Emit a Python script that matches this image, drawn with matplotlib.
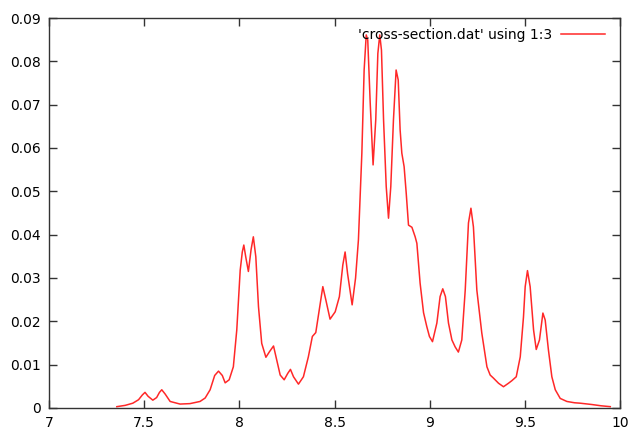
import matplotlib
matplotlib.use("Agg")
import matplotlib.pyplot as plt
from matplotlib.ticker import FormatStrFormatter, MultipleLocator

# energy (column 1) and cross section (column 3)
energy = [7.356, 7.40, 7.44, 7.47, 7.49, 7.504, 7.52, 7.545, 7.565, 7.58,
          7.592, 7.61, 7.636, 7.688, 7.74, 7.793, 7.82, 7.846, 7.87, 7.89,
          7.91, 7.925, 7.946, 7.968, 7.986, 8.004, 8.015, 8.023, 8.033, 8.047,
          8.061, 8.073, 8.086, 8.10, 8.117, 8.139, 8.158, 8.179, 8.196, 8.214,
          8.235, 8.254, 8.268, 8.284, 8.31, 8.336, 8.362, 8.383, 8.401, 8.419,
          8.438, 8.454, 8.476, 8.503, 8.525, 8.543, 8.555, 8.568, 8.592, 8.61,
          8.625, 8.643, 8.655, 8.666, 8.674, 8.687, 8.702, 8.716, 8.727, 8.737,
          8.746, 8.757, 8.771, 8.783, 8.795, 8.809, 8.823, 8.834, 8.844, 8.853,
          8.865, 8.876, 8.888, 8.906, 8.923, 8.932, 8.949, 8.967, 8.984, 8.998,
          9.014, 9.037, 9.054, 9.068, 9.082, 9.098, 9.116, 9.133, 9.15, 9.168,
          9.186, 9.203, 9.216, 9.229, 9.247, 9.273, 9.30, 9.317, 9.334, 9.361,
          9.387, 9.413, 9.431, 9.454, 9.475, 9.492, 9.501, 9.513, 9.527, 9.545,
          9.559, 9.576, 9.594, 9.606, 9.623, 9.641, 9.659, 9.685, 9.72, 9.76,
          9.79, 9.85, 9.90, 9.948]
xsec = [0.0003, 0.0006, 0.0011, 0.0019, 0.0030, 0.0036, 0.0027, 0.0018, 0.0024, 0.0036,
        0.0042, 0.0032, 0.0015, 0.0009, 0.0010, 0.0015, 0.0023, 0.0042, 0.0075, 0.0085,
        0.0075, 0.0058, 0.0065, 0.0095, 0.0180, 0.0318, 0.0360, 0.0376, 0.0349, 0.0315,
        0.0365, 0.0395, 0.0349, 0.0234, 0.0149, 0.0117, 0.0130, 0.0143, 0.0111, 0.0076,
        0.0065, 0.0080, 0.0089, 0.0072, 0.0055, 0.0072, 0.0118, 0.0165, 0.0174, 0.0226,
        0.0280, 0.0249, 0.0205, 0.0222, 0.0257, 0.0330, 0.0360, 0.0310, 0.0238, 0.0300,
        0.0388, 0.0588, 0.0780, 0.0861, 0.0849, 0.0703, 0.0561, 0.0665, 0.0818, 0.0861,
        0.0826, 0.0665, 0.0511, 0.0438, 0.0511, 0.0665, 0.0780, 0.0757, 0.0642, 0.0588,
        0.0557, 0.0496, 0.0422, 0.0417, 0.0395, 0.0380, 0.0288, 0.0220, 0.0188, 0.0165,
        0.0153, 0.0196, 0.0257, 0.0275, 0.0257, 0.0196, 0.0157, 0.0141, 0.0129, 0.0157,
        0.0272, 0.0427, 0.0461, 0.0418, 0.0272, 0.0173, 0.0095, 0.0076, 0.0069, 0.0057,
        0.0049, 0.0057, 0.0063, 0.0072, 0.0118, 0.0210, 0.0280, 0.0317, 0.0280, 0.0180,
        0.0135, 0.0157, 0.0219, 0.0203, 0.0134, 0.0072, 0.0042, 0.0022, 0.0015, 0.0012,
        0.0011, 0.0008, 0.0005, 0.0003]

fig = plt.figure(figsize=(6.29, 4.34), dpi=100)
ax = fig.add_axes([0.078, 0.06, 0.908, 0.8985])

ax.plot(energy, xsec, color="#ff2828", lw=1.1, label="'cross-section.dat' using 1:3")

ax.set_xlim(7, 10)
ax.set_ylim(0, 0.09)
ax.xaxis.set_major_locator(MultipleLocator(0.5))
ax.yaxis.set_major_locator(MultipleLocator(0.01))
ax.xaxis.set_major_formatter(FormatStrFormatter("%g"))
ax.yaxis.set_major_formatter(FormatStrFormatter("%g"))
ax.tick_params(direction="in", length=6, width=1, top=True, right=True,
               labelsize=10, color="#333333", pad=6)
for s in ax.spines.values():
    s.set_color("#333333")
    s.set_linewidth(1)

ax.legend(loc="upper right", bbox_to_anchor=(0.991, 1.0), frameon=False,
          markerfirst=False, fontsize=10, handlelength=3.2,
          borderaxespad=0.3, handletextpad=0.6)

fig.savefig("out.png", dpi=100)
